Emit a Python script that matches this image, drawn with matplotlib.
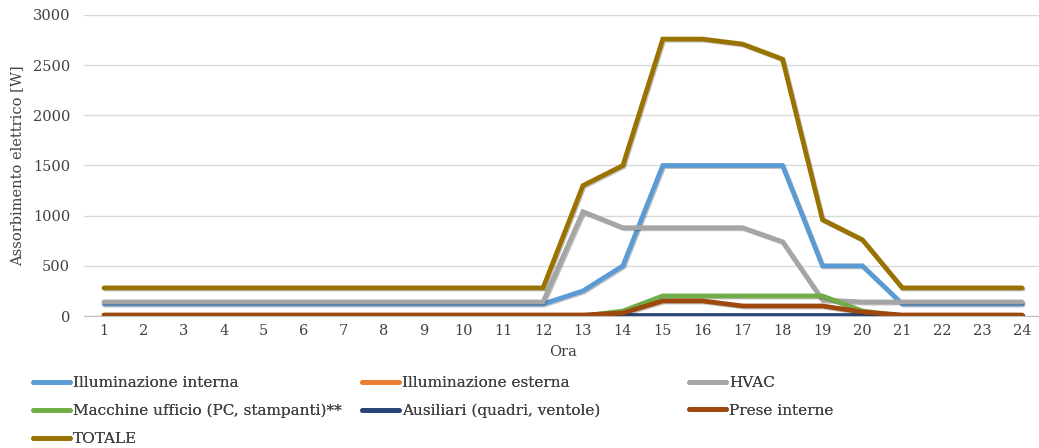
import matplotlib
matplotlib.use("Agg")
import matplotlib.pyplot as plt
import matplotlib.patheffects as pe
from matplotlib.lines import Line2D

plt.rcParams['font.family'] = ['DejaVu Serif']

ore = list(range(1, 25))

illuminazione_interna = [120]*12 + [250, 500, 1500, 1500, 1500, 1500, 500, 500] + [120]*4
illuminazione_esterna = [0]*24
hvac = [140]*12 + [1040, 880, 880, 880, 880, 740, 160, 140] + [140]*4
macchine_ufficio = [0]*12 + [0, 50, 200, 200, 200, 200, 200, 50] + [0]*4
ausiliari = [5]*24
prese_interne = [10]*12 + [10, 30, 150, 150, 100, 100, 100, 40] + [10]*4
totale = [280]*12 + [1300, 1500, 2760, 2760, 2710, 2560, 960, 760] + [280]*4

serie = [
    ("Illuminazione interna", illuminazione_interna, "#5B9BD5"),
    ("Illuminazione esterna", illuminazione_esterna, "#ED7D31"),
    ("HVAC", hvac, "#A5A5A5"),
    ("Macchine ufficio (PC, stampanti)**", macchine_ufficio, "#70AD47"),
    ("Ausiliari (quadri, ventole)", ausiliari, "#264478"),
    ("Prese interne", prese_interne, "#9E480E"),
    ("TOTALE", totale, "#997300"),
]

W, H = 1039, 448
fig = plt.figure(figsize=(W/100, H/100), dpi=100)
ax = fig.add_axes([84/W, 1-316/H, (1042-84)/W, 301/H])

shadow = [pe.SimpleLineShadow(offset=(0.8, -0.8), alpha=0.25, shadow_color='k'), pe.Normal()]
handles = {}
for nome, valori, colore in serie:
    ax.plot(ore, valori, color=colore, lw=3.4, solid_capstyle='round',
            solid_joinstyle='miter', path_effects=shadow, label=nome)
    handles[nome] = Line2D([], [], color=colore, lw=3.4, solid_capstyle='round')

ax.set_xlim(0.5, 24.5)
ax.set_ylim(0, 3000)
ax.set_yticks(range(0, 3001, 500))
ax.set_xticks(ore)
ax.grid(axis='y', color='#d9d9d9', lw=1)
ax.set_axisbelow(True)
for s in ['top', 'right', 'left']:
    ax.spines[s].set_visible(False)
ax.spines['bottom'].set_color('#bfbfbf')
ax.tick_params(axis='both', length=0, labelsize=10.5, colors='#404040')
ax.tick_params(axis='x', pad=6)
ax.tick_params(axis='y', pad=10)
ax.set_xlabel("Ora", fontsize=10.5, color='#404040', labelpad=5)
ax.set_ylabel("Assorbimento elettrico [W]", fontsize=10.5, color='#404040', labelpad=6)

colonne = [
    (33, ["Illuminazione interna", "Macchine ufficio (PC, stampanti)**", "TOTALE"]),
    (362, ["Illuminazione esterna", "Ausiliari (quadri, ventole)"]),
    (689, ["HVAC", "Prese interne"]),
]
for x0, nomi in colonne:
    leg = fig.legend([handles[n] for n in nomi], nomi,
                     loc='upper left', bbox_to_anchor=(x0/W, 1-376/H),
                     frameon=False, fontsize=11, handlelength=2.45,
                     handletextpad=0.15, borderaxespad=0, borderpad=0,
                     labelspacing=0.9, labelcolor='#404040')
    fig.add_artist(leg)

fig.savefig("out.png", dpi=100)
